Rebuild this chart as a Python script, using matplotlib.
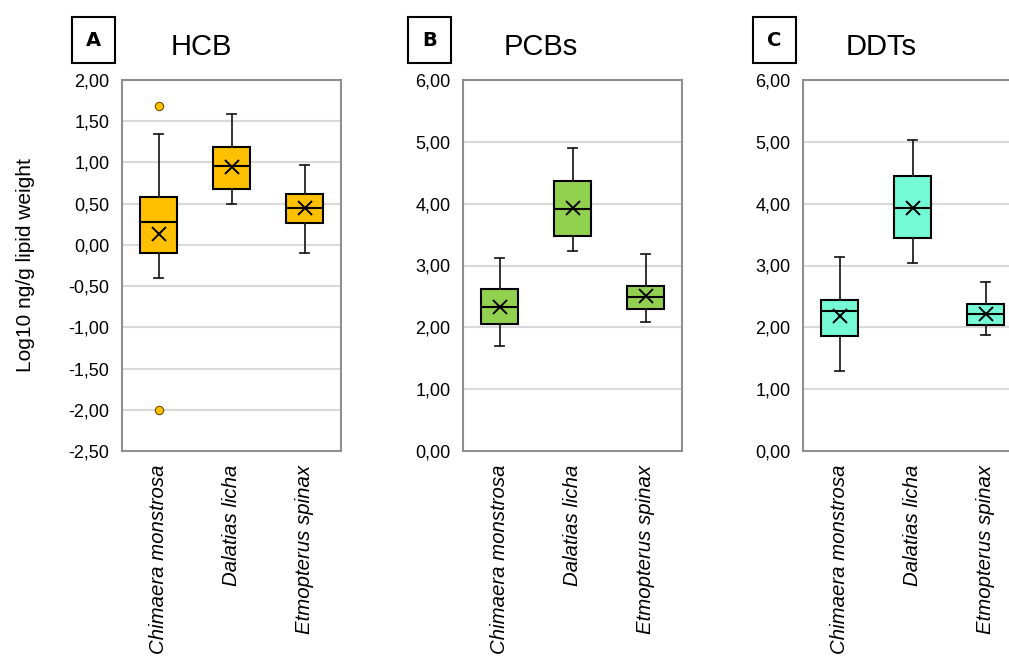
import matplotlib.pyplot as plt
from matplotlib.patches import Rectangle
from matplotlib.ticker import FuncFormatter, MultipleLocator

plt.rcParams['font.family'] = ['Liberation Sans', 'DejaVu Sans']

species = ["Chimaera monstrosa", "Dalatias licha", "Etmopterus spinax"]

# HCB (log10 ng/g lipid weight)
hcb_whislo = [-0.40, 0.49, -0.10]
hcb_q1 = [-0.10, 0.68, 0.27]
hcb_med = [0.28, 0.96, 0.45]
hcb_q3 = [0.58, 1.19, 0.62]
hcb_whishi = [1.34, 1.59, 0.97]
hcb_mean = [0.13, 0.95, 0.45]
hcb_fliers = [[1.68, -2.00], [], []]

# PCBs
pcb_whislo = [1.70, 3.23, 2.09]
pcb_q1 = [2.06, 3.48, 2.30]
pcb_med = [2.33, 3.91, 2.49]
pcb_q3 = [2.62, 4.37, 2.67]
pcb_whishi = [3.12, 4.90, 3.19]
pcb_mean = [2.33, 3.93, 2.51]
pcb_fliers = [[], [], []]

# DDTs
ddt_whislo = [1.30, 3.04, 1.87]
ddt_q1 = [1.86, 3.44, 2.04]
ddt_med = [2.26, 3.93, 2.21]
ddt_q3 = [2.45, 4.45, 2.38]
ddt_whishi = [3.14, 5.03, 2.74]
ddt_mean = [2.19, 3.93, 2.21]
ddt_fliers = [[], [], []]

panels = [
    ("A", "HCB", "#FFC000", (-2.5, 2.0, 0.5),
     hcb_whislo, hcb_q1, hcb_med, hcb_q3, hcb_whishi, hcb_mean, hcb_fliers),
    ("B", "PCBs", "#92D050", (0.0, 6.0, 1.0),
     pcb_whislo, pcb_q1, pcb_med, pcb_q3, pcb_whishi, pcb_mean, pcb_fliers),
    ("C", "DDTs", "#74FAD4", (0.0, 6.0, 1.0),
     ddt_whislo, ddt_q1, ddt_med, ddt_q3, ddt_whishi, ddt_mean, ddt_fliers),
]

W, H = 1009, 657
fig = plt.figure(figsize=(W / 100, H / 100), dpi=100)

# pixel layout: axes left edges, letter-box left edges, title centres
ax_left = [122, 463, 803]
box_left = [72, 408, 753]
title_x = [201, 541, 881]
ax_top, ax_bottom, ax_w = 80, 451, 219

comma = FuncFormatter(lambda v, p: f"{v:.2f}".replace(".", ","))

for i, (letter, title, color, (ymin, ymax, step),
        wlo, q1, med, q3, whi, mean, fl) in enumerate(panels):
    ax = fig.add_axes([ax_left[i] / W, 1 - ax_bottom / H,
                       ax_w / W, (ax_bottom - ax_top) / H])
    stats = [dict(whislo=wlo[k], q1=q1[k], med=med[k], q3=q3[k],
                  whishi=whi[k], mean=mean[k], fliers=fl[k])
             for k in range(3)]
    ax.bxp(stats, positions=[1, 2, 3], widths=0.5, capwidths=0.12,
           showmeans=True, patch_artist=True,
           boxprops=dict(facecolor=color, edgecolor="black", linewidth=1.5),
           medianprops=dict(color="black", linewidth=1.5),
           whiskerprops=dict(color="#222222", linewidth=1.3),
           capprops=dict(color="#222222", linewidth=1.3),
           meanprops=dict(marker="x", markersize=10, markeredgecolor="black",
                          markeredgewidth=1.4),
           flierprops=dict(marker="o", markersize=6, markerfacecolor=color,
                           markeredgecolor="#6b5000", markeredgewidth=0.8))
    ax.set_xlim(0.5, 3.5)
    ax.set_ylim(ymin, ymax)
    ax.yaxis.set_major_locator(MultipleLocator(step))
    ax.yaxis.set_major_formatter(comma)
    ax.grid(axis="y", color="#D9D9D9", linewidth=1.5)
    ax.set_axisbelow(True)
    for s in ax.spines.values():
        s.set_color("#8F8F8F")
        s.set_linewidth(1.5)
    ax.set_xticks([1, 2, 3])
    ax.set_xticklabels(species, rotation=90, style="italic", va="top")
    ax.tick_params(axis="both", length=0, colors="black")
    ax.tick_params(axis="y", pad=9, labelsize=13)
    ax.tick_params(axis="x", pad=10, labelsize=14.7)

    # panel letter in a square box
    bx, by, bw, bh = box_left[i], 17, 43, 46
    fig.patches.append(Rectangle((bx / W, 1 - (by + bh) / H), bw / W, bh / H,
                                 transform=fig.transFigure, fill=False,
                                 edgecolor="black", linewidth=1.5))
    fig.text((bx + bw / 2) / W, 1 - (by + bh / 2) / H, letter,
             ha="center", va="center", fontsize=14, fontweight="bold",
             family=["Liberation Sans Narrow", "DejaVu Sans"])
    fig.text(title_x[i] / W, 1 - 47 / H, title, ha="center", va="center",
             fontsize=21)

    if i == 0:
        ax.set_ylabel("Log10 ng/g lipid weight", fontsize=15, labelpad=24)

fig.savefig("out.png", dpi=100)
